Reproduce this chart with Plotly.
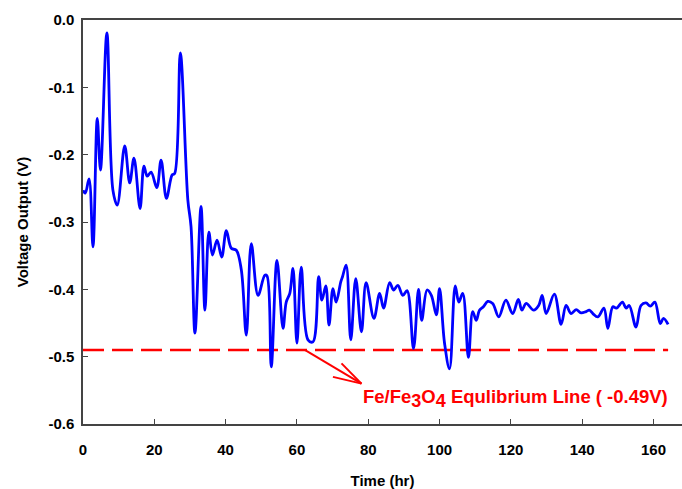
import plotly.graph_objects as go

# Data
time_hr = [0, 0.65, 1.7, 2.8, 4.0, 4.9, 6.7, 8.4, 9.6, 11.7, 13.1, 14.3, 16.0, 17.1, 18.0,
           19.1, 20.7, 21.9, 23.4, 25.0, 25.7, 27.3, 29.4, 30.3, 31.4, 33.1, 34.2, 35.3,
           36.3, 37.6, 38.9, 40.2, 41.6, 43.0, 44.4, 45.8, 47.2, 49.1, 51.0, 51.6, 52.8,
           54.4, 56.1, 57.0, 58.0, 58.9, 60.0, 61.2, 63.1, 64.5, 66.1, 67.0, 68.1, 69.0,
           70.1, 71.0, 72.3, 72.8, 73.8, 75.1, 76.5, 78.1, 79.4, 81.6, 83.2, 84.3, 86.0,
           87.1, 88.3, 89.7, 90.9, 92.7, 94.1, 95.0, 96.5, 97.7, 99.1, 100.0, 101.4, 102.8,
           104.4, 105.4, 106.5, 108.1, 109.3, 110.3, 111.2, 112.3, 113.5, 114.9, 116.6,
           118.6, 120.5, 122.1, 123.1, 124.3, 126.4, 127.8, 128.8, 129.9, 132.2, 134.1,
           135.5, 136.9, 138.3, 139.7, 141.1, 142.0, 143.0, 144.4, 146.1, 147.2, 148.6,
           149.6, 151.3, 152.3, 153.2, 155.1, 156.5, 157.9, 159.1, 160.4, 161.9, 162.8, 164.1]
voltage_v = [-0.253, -0.257, -0.236, -0.337, -0.146, -0.223, -0.019, -0.253, -0.275, -0.187,
             -0.242, -0.205, -0.280, -0.217, -0.232, -0.226, -0.249, -0.208, -0.265, -0.230,
             -0.228, -0.049, -0.267, -0.307, -0.465, -0.277, -0.431, -0.315, -0.349, -0.327,
             -0.352, -0.313, -0.339, -0.342, -0.371, -0.468, -0.332, -0.409, -0.379, -0.380,
             -0.515, -0.357, -0.458, -0.419, -0.406, -0.369, -0.480, -0.367, -0.475, -0.478,
             -0.381, -0.416, -0.395, -0.453, -0.399, -0.419, -0.389, -0.381, -0.364, -0.475,
             -0.384, -0.463, -0.390, -0.443, -0.406, -0.428, -0.390, -0.401, -0.394, -0.409,
             -0.402, -0.488, -0.400, -0.446, -0.401, -0.409, -0.438, -0.399, -0.480, -0.518,
             -0.395, -0.419, -0.406, -0.501, -0.433, -0.446, -0.431, -0.426, -0.418, -0.421,
             -0.441, -0.416, -0.436, -0.415, -0.431, -0.421, -0.431, -0.424, -0.409, -0.436,
             -0.407, -0.452, -0.424, -0.436, -0.430, -0.435, -0.433, -0.431, -0.436, -0.441,
             -0.428, -0.458, -0.426, -0.428, -0.419, -0.428, -0.424, -0.456, -0.424, -0.420,
             -0.425, -0.419, -0.451, -0.443, -0.452]
equilibrium_v = -0.49
x_ticks = [0, 20, 40, 60, 80, 100, 120, 140, 160]
y_ticks = [0.0, -0.1, -0.2, -0.3, -0.4, -0.5, -0.6]
y_tick_labels = ["0.0", "-0.1", "-0.2", "-0.3", "-0.4", "-0.5", "-0.6"]

FONT = "Liberation Sans"

fig = go.Figure()
fig.add_trace(go.Scatter(
    x=[0, time_hr[-1]], y=[equilibrium_v, equilibrium_v], mode="lines",
    line=dict(color="#FF0000", width=2.5, dash="21px,8px"), hoverinfo="skip",
    showlegend=False))
fig.add_trace(go.Scatter(
    x=time_hr, y=voltage_v, mode="lines",
    line=dict(color="#0000FF", width=2.8, shape="spline", smoothing=1.0),
    showlegend=False))

# Arrow from the equilibrium line to its label
arrow_tail = (62.2, equilibrium_v)
arrow_tip = (78.1, -0.540)
barb_a = (72.5, -0.510)
barb_b = (70.1, -0.530)
for p0, p1 in [(arrow_tail, arrow_tip), (barb_a, arrow_tip), (barb_b, arrow_tip)]:
    fig.add_shape(type="line", xref="x", yref="y", x0=p0[0], y0=p0[1], x1=p1[0], y1=p1[1],
                  line=dict(color="#FF0000", width=2))

fig.add_annotation(
    x=78.1, y=-0.562, xref="x", yref="y", xanchor="left", yanchor="middle",
    text=("Fe/Fe<sub><span style='font-size:18px'>3</span></sub>O"
          "<sub><span style='font-size:18px'>4</span></sub> Equlibrium Line ( -0.49V)"),
    showarrow=False,
    font=dict(family=FONT, size=18.5, color="#FF0000", weight="bold"))

fig.update_layout(
    width=682, height=489,
    margin=dict(l=83, r=0, t=20, b=65, autoexpand=False),
    plot_bgcolor="white", paper_bgcolor="white",
    font=dict(family=FONT, color="black"),
    xaxis=dict(range=[0, 168], tickvals=x_ticks, ticks="inside", ticklen=5,
               tickcolor="#444", showline=True, linecolor="#444", linewidth=1.5,
               mirror=True, showgrid=False, zeroline=False, automargin=False,
               ticklabelstandoff=11,
               tickfont=dict(family=FONT, size=15, weight="bold"),
               title=dict(text="Time (hr)", font=dict(family=FONT, size=15, weight="bold"),
                          standoff=20)),
    yaxis=dict(range=[-0.6, 0], tickvals=y_ticks, ticktext=y_tick_labels, ticks="inside",
               ticklen=5, tickcolor="#444", showline=True, linecolor="#444", linewidth=1.5,
               showgrid=False, zeroline=False, automargin=False, ticklabelstandoff=4,
               tickfont=dict(family=FONT, size=15, weight="bold"),
               title=dict(text="Voltage Output (V)",
                          font=dict(family=FONT, size=15, weight="bold"), standoff=16)),
)

fig.write_html("out.html", config={"displayModeBar": False},
               post_script="document.body.style.margin='0';document.body.style.overflow='hidden';")
